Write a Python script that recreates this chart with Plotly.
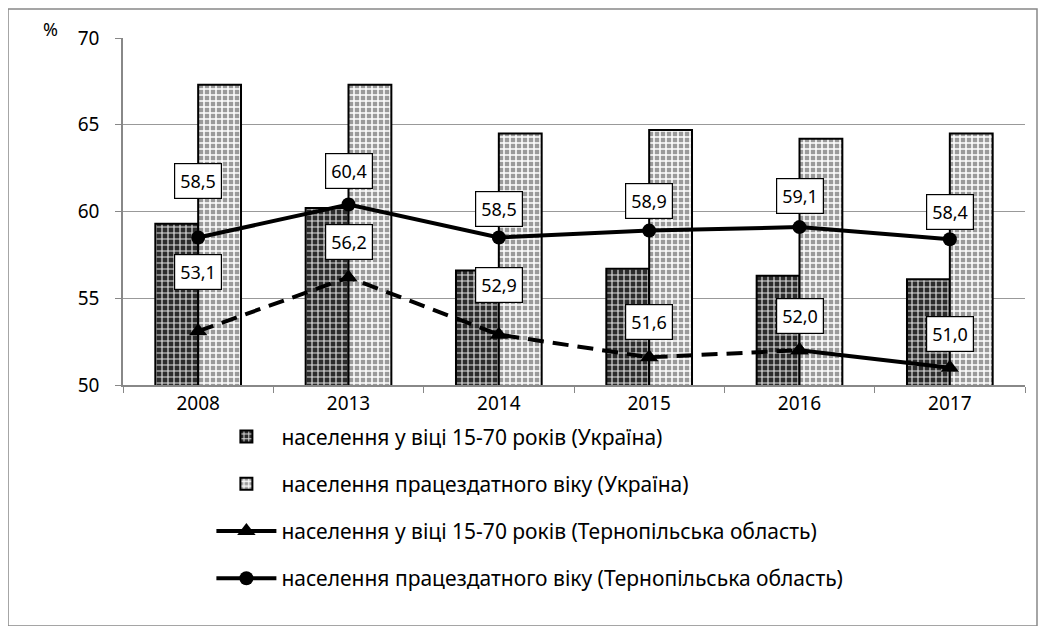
import plotly.graph_objects as go

years = ["2008", "2013", "2014", "2015", "2016", "2017"]
ua_15_70 = [59.3, 60.2, 56.6, 56.7, 56.3, 56.1]
ua_work = [67.3, 67.3, 64.5, 64.7, 64.2, 64.5]
te_15_70 = [53.1, 56.2, 52.9, 51.6, 52.0, 51.0]
te_work = [58.5, 60.4, 58.5, 58.9, 59.1, 58.4]

names = [
    "населення у віці 15-70 років (Україна)",
    "населення працездатного віку (Україна)",
    "населення у віці 15-70 років (Тернопільська область)",
    "населення працездатного віку (Тернопільська область)",
]

# label vertical offsets in px above the point (positioning only)
te_15_70_off = [59, 35, 50, 35, 34, 34]
te_work_off = [57, 34, 29, 30, 31, 27]

FONT = "Noto Sans"

fig = go.Figure()
fig.add_trace(go.Bar(
    x=years, y=ua_15_70, name=names[0], legendgroup="a",
    marker=dict(color="#404040", line=dict(color="black", width=2),
                pattern=dict(shape="+", fillmode="replace", bgcolor="#2c2c2c",
                             fgcolor="#e0e0e0", size=6, solidity=0.35)),
))
fig.add_trace(go.Bar(
    x=years, y=ua_work, name=names[1], legendgroup="b",
    marker=dict(color="#c0c0c0", line=dict(color="black", width=2),
                pattern=dict(shape="+", fillmode="replace", bgcolor="#9a9a9a",
                             fgcolor="#ffffff", size=6, solidity=0.45)),
))
fig.add_trace(go.Scatter(
    x=years[:5], y=te_15_70[:5], mode="lines+markers", showlegend=False, legendgroup="c",
    line=dict(color="black", width=4, dash="16px,9px"),
    marker=dict(symbol="triangle-up", size=16, color="black"),
))
fig.add_trace(go.Scatter(
    x=years[4:], y=te_15_70[4:], mode="lines+markers", name=names[2], legendgroup="c",
    line=dict(color="black", width=4),
    marker=dict(symbol="triangle-up", size=16, color="black"),
))
fig.add_trace(go.Scatter(
    x=years, y=te_work, mode="lines+markers", name=names[3], legendgroup="d",
    line=dict(color="black", width=4),
    marker=dict(symbol="circle", size=14, color="black"),
))

ann = []
for ys, offs in ((te_15_70, te_15_70_off), (te_work, te_work_off)):
    for i, (y, o) in enumerate(zip(ys, offs)):
        ann.append(dict(x=i, y=y, xref="x", yref="y", text=f"{y:.1f}".replace(".", ","),
                        showarrow=False, yshift=o,
                        font=dict(family=FONT, size=18, color="black"),
                        bgcolor="white", bordercolor="black", borderwidth=1.2, borderpad=5))
ann.append(dict(x=-0.091, y=1.067, xref="paper", yref="paper", text="%", showarrow=False,
                font=dict(family=FONT, size=18, color="black")))

fig.update_layout(
    width=1030, height=618,
    margin=dict(l=115, r=13, t=30, b=241),
    paper_bgcolor="white", plot_bgcolor="white",
    barmode="group", bargap=0.43, bargroupgap=0,
    font=dict(family=FONT, size=18, color="black"),
    annotations=ann,
    legend=dict(x=0.098, y=-0.09, xanchor="left", yanchor="top",
                font=dict(family=FONT, size=21, color="black"),
                tracegroupgap=17, itemwidth=60, traceorder="grouped"),
    shapes=[dict(type="rect", xref="paper", yref="paper",
                 x0=-0.1275, x1=1.0133, y0=-0.6945, y1=1.0836,
                 line=dict(color="#888888", width=1.5), layer="below")],
)
fig.update_xaxes(type="category", range=[-0.5, 5.5], showgrid=False, showline=True,
                 linecolor="#888888", linewidth=1.5,
                 ticks="outside", tickson="boundaries", ticklen=6, tickcolor="#888888",
                 tickfont=dict(family=FONT, size=19), tickangle=0)
fig.update_yaxes(range=[50, 70], dtick=5, showgrid=True, gridcolor="#999999", gridwidth=1.2,
                 showline=True, linecolor="#888888", linewidth=1.5,
                 ticks="outside", ticklen=6, tickcolor="#888888", ticklabelstandoff=12,
                 tickfont=dict(family=FONT, size=19), zeroline=False)

fig.write_html("out.html")
